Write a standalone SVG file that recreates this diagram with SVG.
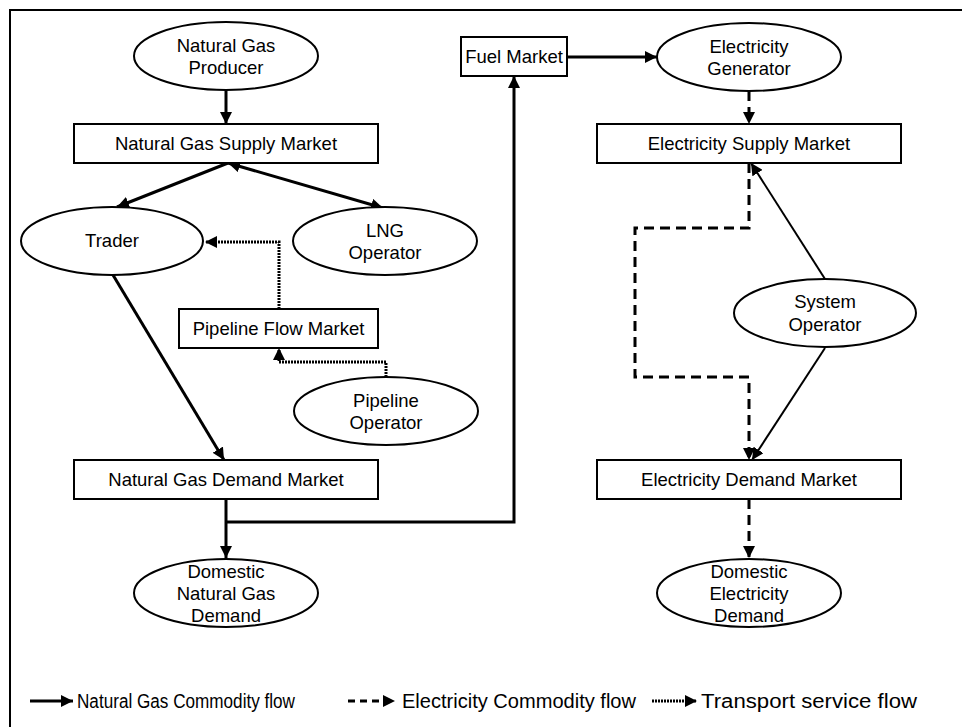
<svg xmlns="http://www.w3.org/2000/svg" width="962" height="727" viewBox="0 0 962 727">
<style>
  .node { fill: #fff; stroke: #000; stroke-width: 2; }
  .lbl { font-family: "Liberation Sans", Arial, sans-serif; font-size: 18.5px; fill: #000; text-anchor: middle; }
  .leg { font-family: "Liberation Sans", Arial, sans-serif; font-size: 20px; fill: #000; }
  .gas { fill: none; stroke: #000; stroke-width: 3; }
  .elec { fill: none; stroke: #000; stroke-width: 3; stroke-dasharray: 10 6; }
  .trans { fill: none; stroke: #000; stroke-width: 3; stroke-dasharray: 2 1; }
  .thin { fill: none; stroke: #000; stroke-width: 2; }
</style>
<defs>
  <marker id="ah" viewBox="0 0 12 12" refX="12" refY="6" markerWidth="12" markerHeight="12" markerUnits="userSpaceOnUse" orient="auto-start-reverse">
    <path d="M0,0 L12,6 L0,12 z" fill="#000"/>
  </marker>
</defs>
<rect x="10" y="10" width="970" height="740" fill="#fff" stroke="#000" stroke-width="2"/>

<g id="connectors">
  <path class="gas" d="M226,90 V124" marker-end="url(#ah)"/>
  <path class="gas" d="M228,163 L117,207" marker-end="url(#ah)"/>
  <path class="gas" d="M228,163 L383,208" marker-start="url(#ah)" marker-end="url(#ah)"/>
  <path class="trans" d="M279,309 V242 H205" marker-end="url(#ah)"/>
  <path class="trans" d="M386,377 V362 H279 V348" marker-end="url(#ah)"/>
  <path class="gas" d="M113,275 L224,460" marker-end="url(#ah)"/>
  <path class="gas" d="M226,499 V558" marker-end="url(#ah)"/>
  <path class="gas" d="M226,522 H514 V76" marker-end="url(#ah)"/>
  <path class="gas" d="M567,57 H657" marker-end="url(#ah)"/>
  <path class="elec" d="M749,91 V124" marker-end="url(#ah)"/>
  <path class="elec" d="M749,163 V228 H635 V377 H749 V460" marker-end="url(#ah)"/>
  <path class="thin" d="M825,279 L751,163" marker-end="url(#ah)"/>
  <path class="thin" d="M825,348 L752,460" marker-end="url(#ah)"/>
  <path class="elec" d="M749,499 V558" marker-end="url(#ah)"/>
</g>

<g id="ng-producer">
  <ellipse class="node" cx="226" cy="56" rx="92" ry="34"/>
  <text class="lbl" x="226" y="52">Natural Gas</text>
  <text class="lbl" x="226" y="74">Producer</text>
</g>
<g id="ng-supply-market">
  <rect class="node" x="74" y="124" width="304" height="39"/>
  <text class="lbl" x="226" y="150">Natural Gas Supply Market</text>
</g>
<g id="trader">
  <ellipse class="node" cx="112" cy="241" rx="91" ry="34"/>
  <text class="lbl" x="112" y="247">Trader</text>
</g>
<g id="lng-operator">
  <ellipse class="node" cx="385" cy="241" rx="92" ry="34"/>
  <text class="lbl" x="385" y="237">LNG</text>
  <text class="lbl" x="385" y="259">Operator</text>
</g>
<g id="pipeline-flow-market">
  <rect class="node" x="179" y="309" width="199" height="39"/>
  <text class="lbl" x="278.5" y="335">Pipeline Flow Market</text>
</g>
<g id="pipeline-operator">
  <ellipse class="node" cx="386" cy="411" rx="92" ry="34"/>
  <text class="lbl" x="386" y="407">Pipeline</text>
  <text class="lbl" x="386" y="429">Operator</text>
</g>
<g id="ng-demand-market">
  <rect class="node" x="74" y="460" width="304" height="39"/>
  <text class="lbl" x="226" y="486">Natural Gas Demand Market</text>
</g>
<g id="domestic-ng-demand">
  <ellipse class="node" cx="226" cy="593" rx="92" ry="34"/>
  <text class="lbl" x="226" y="578">Domestic</text>
  <text class="lbl" x="226" y="600">Natural Gas</text>
  <text class="lbl" x="226" y="622">Demand</text>
</g>
<g id="fuel-market">
  <rect class="node" x="461" y="37" width="106" height="39"/>
  <text class="lbl" x="514" y="63">Fuel Market</text>
</g>
<g id="electricity-generator">
  <ellipse class="node" cx="749" cy="57" rx="92" ry="34"/>
  <text class="lbl" x="749" y="53">Electricity</text>
  <text class="lbl" x="749" y="75">Generator</text>
</g>
<g id="electricity-supply-market">
  <rect class="node" x="597" y="124" width="304" height="39"/>
  <text class="lbl" x="749" y="150">Electricity Supply Market</text>
</g>
<g id="system-operator">
  <ellipse class="node" cx="825" cy="313" rx="91" ry="34"/>
  <text class="lbl" x="825" y="308">System</text>
  <text class="lbl" x="825" y="331">Operator</text>
</g>
<g id="electricity-demand-market">
  <rect class="node" x="597" y="460" width="304" height="39"/>
  <text class="lbl" x="749" y="486">Electricity Demand Market</text>
</g>
<g id="domestic-electricity-demand">
  <ellipse class="node" cx="749" cy="593" rx="92" ry="34"/>
  <text class="lbl" x="749" y="578">Domestic</text>
  <text class="lbl" x="749" y="600">Electricity</text>
  <text class="lbl" x="749" y="622">Demand</text>
</g>

<g id="legend">
  <path class="gas" d="M30,701 H73" marker-end="url(#ah)"/>
  <text class="leg" x="77" y="708" textLength="218" lengthAdjust="spacingAndGlyphs">Natural Gas Commodity flow</text>
  <path class="elec" d="M348,701 H395" style="stroke-dasharray:7 5" marker-end="url(#ah)"/>
  <text class="leg" x="402" y="708" textLength="234" lengthAdjust="spacingAndGlyphs">Electricity Commodity flow</text>
  <path class="trans" d="M652,701 H697" marker-end="url(#ah)"/>
  <text class="leg" x="701" y="708" textLength="216" lengthAdjust="spacingAndGlyphs">Transport service flow</text>
</g>
</svg>
